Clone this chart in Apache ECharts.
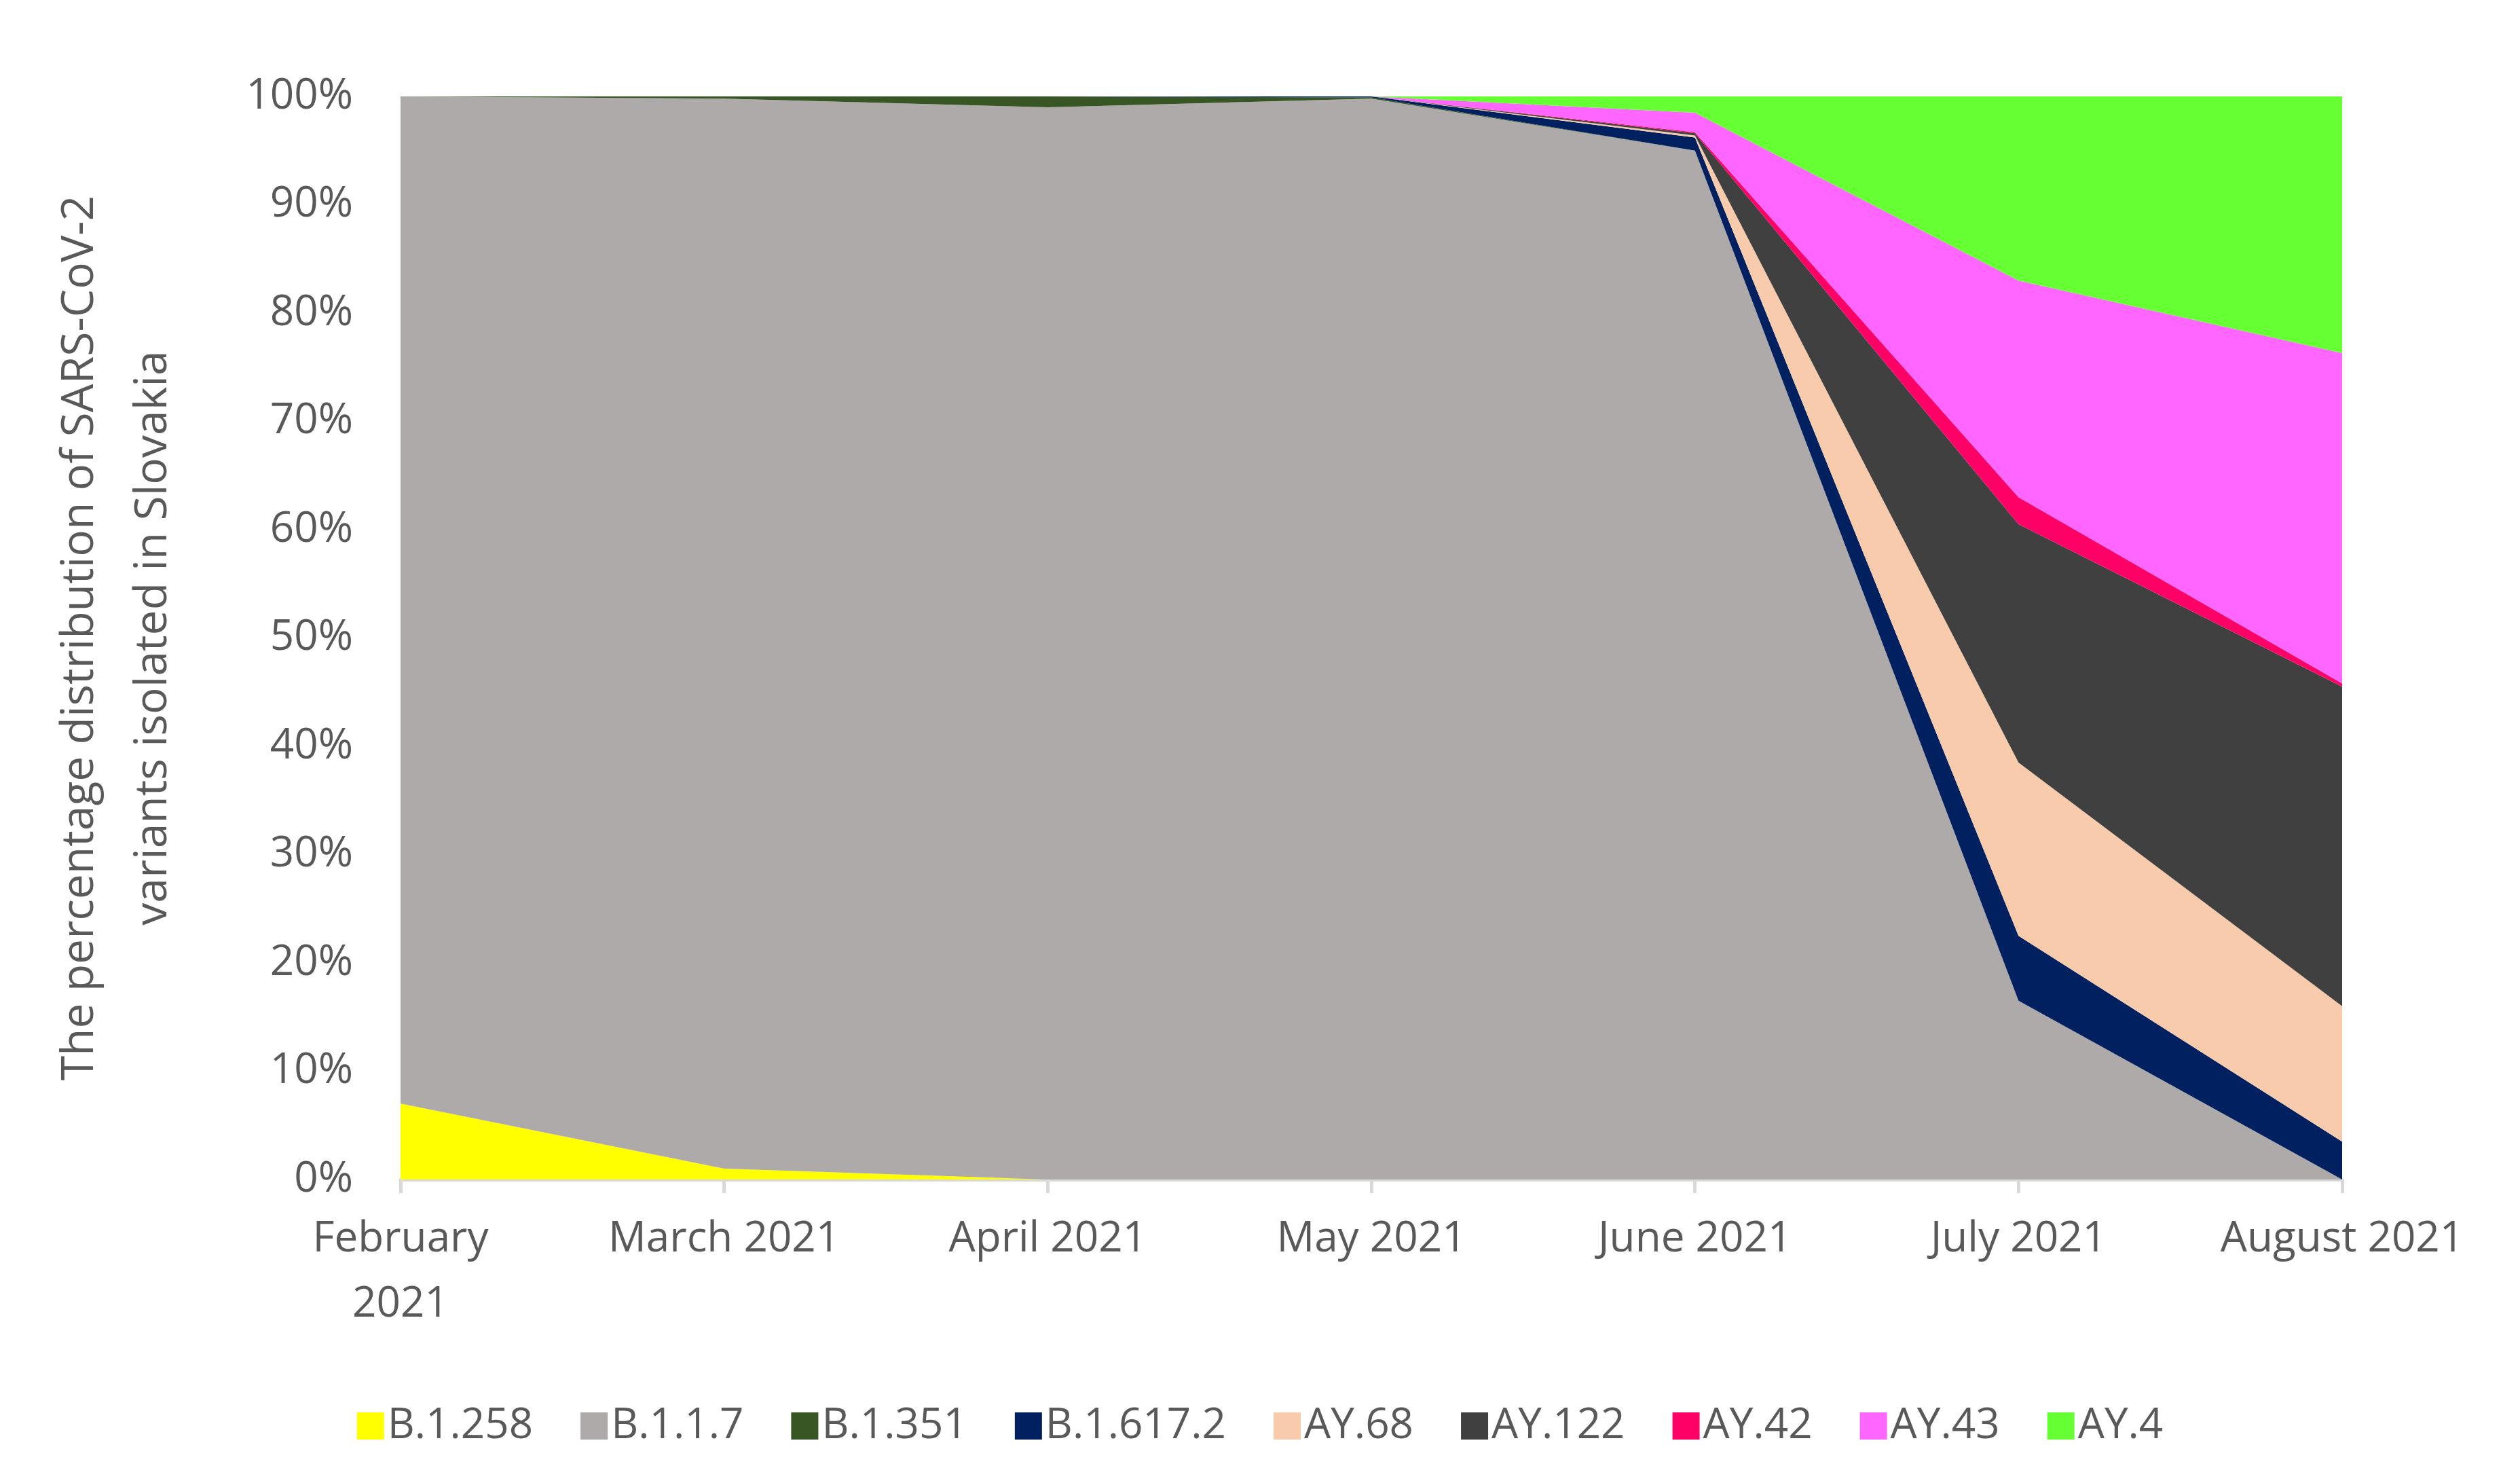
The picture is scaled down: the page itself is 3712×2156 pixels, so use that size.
<!DOCTYPE html>
<html>
<head>
<meta charset="utf-8">
<script src="https://cdn.jsdelivr.net/npm/echarts@6/dist/echarts.min.js"></script>
<style>html,body{margin:0;padding:0;background:#fff}#main{width:3712px;height:2156px}</style>
</head>
<body>
<div id="main"></div>
<script>
const months = ['February\n2021', 'March 2021', 'April 2021', 'May 2021', 'June 2021', 'July 2021', 'August 2021'];
const variantNames = ['B.1.258', 'B.1.1.7', 'B.1.351', 'B.1.617.2', 'AY.68', 'AY.122', 'AY.42', 'AY.43', 'AY.4'];
const colors = ['#ffff00', '#aeaaaa', '#375623', '#002060', '#f8cbad', '#404040', '#ff0066', '#ff66ff', '#66ff33'];
const b1258 = [7, 1, 0, 0, 0, 0, 0];
const b117 = [93, 98.8, 99, 99.8, 95, 16.5, 0];
const b1351 = [0, 0.2, 1, 0.1, 0, 0, 0];
const b16172 = [0, 0, 0, 0.1, 1.2, 6, 3.5];
const ay68 = [0, 0, 0, 0, 0.2, 16, 12.5];
const ay122 = [0, 0, 0, 0, 0.2, 22, 29.5];
const ay42 = [0, 0, 0, 0, 0.1, 2.5, 0.3];
const ay43 = [0, 0, 0, 0, 1.8, 20, 30.5];
const ay4 = [0, 0, 0, 0, 1.5, 17, 23.7];
const seriesData = [b1258, b117, b1351, b16172, ay68, ay122, ay42, ay43, ay4];

const chart = echarts.init(document.getElementById('main'));
chart.setOption({
  animation: false,
  color: colors,
  textStyle: {fontFamily: 'Open Sans', color: '#595959'},
  grid: {left: 590, right: 262, top: 142, bottom: 419},
  legend: {
    bottom: 20, left: 'center', itemWidth: 40, itemHeight: 40, itemGap: 70,
    icon: 'rect', textStyle: {fontSize: 62, color: '#595959'},
    data: variantNames
  },
  xAxis: {
    type: 'category', boundaryGap: false, data: months,
    axisLine: {lineStyle: {color: '#d9d9d9', width: 5}},
    axisTick: {show: true, length: 20, lineStyle: {color: '#d9d9d9', width: 5}},
    axisLabel: {fontSize: 62, color: '#595959', margin: 40, lineHeight: 96}
  },
  yAxis: {
    type: 'value', min: 0, max: 100, interval: 10,
    name: 'The percentage distribution of SARS-CoV-2\nvariants isolated in Slovakia',
    nameLocation: 'middle', nameGap: 310, nameRotate: 90,
    nameTextStyle: {fontSize: 66, color: '#595959', lineHeight: 108},
    axisLine: {show: false}, axisTick: {show: false},
    splitLine: {show: false},
    axisLabel: {fontSize: 62, color: '#595959', margin: 70, formatter: '{value}%'}
  },
  series: variantNames.map((n, i) => ({
    name: n, type: 'line', stack: 'total', data: seriesData[i],
    symbol: 'none', lineStyle: {width: 0},
    areaStyle: {color: colors[i], opacity: 1}
  }))
});
</script>
</body>
</html>
